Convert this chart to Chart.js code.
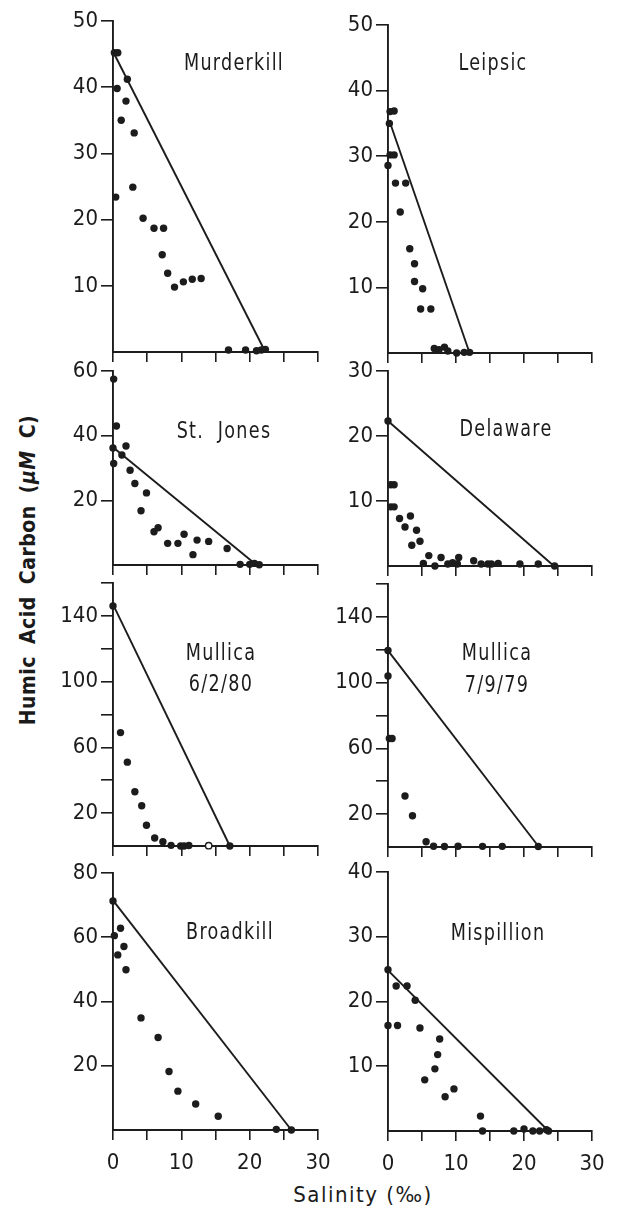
<!DOCTYPE html>
<html>
<head>
<meta charset="utf-8">
<script src="https://cdn.jsdelivr.net/npm/chart.js@4.4.1/dist/chart.umd.min.js"></script>
<style>
  body { margin: 0; background: #fff; width: 619px; height: 1219px; position: relative; overflow: hidden; }
  canvas { position: absolute; }
  .ytitle {
    position: absolute; left: -172px; top: 558px; width: 400px; text-align: center;
    transform: rotate(-90deg); font: bold 21px 'Liberation Sans Narrow', 'DejaVu Sans Condensed', sans-serif;
    color: #1a1a1a; letter-spacing: 0.5px; word-spacing: 5px; white-space: nowrap;
  }
  .xtitle {
    position: absolute; left: 263px; top: 1182px; width: 200px; text-align: center;
    font: 22px 'Liberation Sans Narrow', 'DejaVu Sans Condensed', sans-serif;
    color: #1a1a1a; letter-spacing: 1.5px; white-space: nowrap;
  }
</style>
</head>
<body>
<div class="ytitle">Humic Acid Carbon (<i>μM</i> C)</div>
<div class="xtitle">Salinity (‰)</div>
<script>
// salinity (per mille) vs humic acid carbon (uM C)
const murderkillSal = [0.2, 0.7, 2.1, 0.6, 1.9, 1.2, 3.1, 2.9, 0.4, 4.4, 6.0, 7.4, 7.2, 8.0, 9.0, 10.3, 11.6, 12.9, 16.9, 19.4, 21.0, 21.7, 22.3];
const murderkillHA  = [45.2, 45.2, 41.2, 39.8, 37.9, 35.0, 33.1, 24.9, 23.4, 20.2, 18.7, 18.7, 14.7, 11.9, 9.8, 10.6, 11.0, 11.1, 0.3, 0.3, 0.2, 0.3, 0.4];
const murderkillMixSal = [0, 22.3];
const murderkillMixHA  = [45.4, 0];

const leipsicSal = [0.3, 0.9, 0.2, 0.3, 0.9, 0.0, 1.1, 2.6, 1.8, 3.2, 3.9, 3.9, 5.1, 4.8, 6.3, 6.8, 7.5, 8.3, 8.8, 10.1, 11.2, 12.0];
const leipsicHA  = [36.8, 36.9, 35.0, 30.2, 30.2, 28.6, 25.9, 25.9, 21.5, 15.9, 13.6, 10.9, 9.8, 6.7, 6.7, 0.7, 0.5, 0.9, 0.3, 0.0, 0.1, 0.1];
const leipsicMixSal = [0.2, 12.0];
const leipsicMixHA  = [35.4, 0];

const stJonesSal = [0.1, 0.5, 0.0, 0.1, 1.3, 1.9, 2.5, 3.2, 4.9, 4.1, 6.0, 6.6, 8.0, 9.5, 10.4, 11.7, 12.3, 14.0, 16.7, 18.6, 20.0, 20.7, 21.4];
const stJonesHA  = [57.5, 43.0, 36.2, 31.4, 34.0, 36.8, 29.3, 25.2, 22.3, 16.8, 10.3, 11.5, 6.7, 6.7, 9.5, 3.2, 7.7, 7.3, 5.1, 0.2, 0.2, 0.5, 0.1];
const stJonesMixSal = [0, 21.0];
const stJonesMixHA  = [36.4, 0];

const delawareSal = [0, 0.4, 0.9, 0.4, 0.9, 1.7, 3.3, 2.5, 4.2, 3.5, 4.7, 6.0, 5.2, 6.9, 7.8, 8.8, 9.5, 10.2, 10.4, 12.6, 13.7, 14.7, 15.2, 16.2, 19.4, 22.1, 24.5];
const delawareHA  = [22.3, 12.5, 12.5, 9.1, 9.1, 7.3, 7.7, 6.0, 5.5, 3.2, 3.8, 1.6, 0.4, 0.0, 1.3, 0.3, 0.5, 0.3, 1.3, 0.8, 0.3, 0.3, 0.3, 0.4, 0.3, 0.3, 0.0];
const delawareMixSal = [0, 24.4];
const delawareMixHA  = [22.3, 0];

const mullica80Sal = [0, 1.1, 2.1, 3.2, 4.2, 4.9, 6.1, 7.3, 8.5, 9.9, 10.4, 11.1, 17.1];
const mullica80HA  = [146, 69, 51, 33, 24.5, 12.6, 4.9, 2.6, 0.4, 0.0, 0.0, 0.3, 0.0];
const mullica80OpenSal = [14.0];
const mullica80OpenHA  = [0.2];
const mullica80MixSal = [0, 17.1];
const mullica80MixHA  = [147, 0];

const mullica79Sal = [0, 0, 0.2, 0.6, 2.5, 3.6, 5.6, 6.7, 8.3, 10.3, 13.9, 16.8, 22.1];
const mullica79HA  = [119.5, 104, 66, 66, 31, 19, 3.2, 0.5, 0.3, 0.5, 0.4, 0.4, 0.3];
const mullica79MixSal = [0, 22.2];
const mullica79MixHA  = [119.5, 0];

const broadkillSal = [0, 0.2, 1.1, 1.6, 0.7, 1.9, 4.1, 6.6, 8.2, 9.5, 12.1, 15.4, 23.9, 26.1];
const broadkillHA  = [71.3, 60.5, 62.8, 57.1, 54.5, 49.9, 34.9, 28.8, 18.2, 12.1, 8.1, 4.3, 0.2, 0.0];
const broadkillMixSal = [0, 26.1];
const broadkillMixHA  = [71.5, 0];

const mispillionSal = [0, 1.2, 2.8, 4.0, 0, 1.4, 4.7, 7.6, 7.3, 6.9, 5.4, 9.7, 8.4, 13.6, 13.9, 18.5, 20.0, 21.3, 22.3, 23.3, 23.6];
const mispillionHA  = [24.9, 22.4, 22.4, 20.2, 16.3, 16.3, 15.9, 14.2, 11.8, 9.6, 7.9, 6.5, 5.3, 2.3, 0.0, 0.0, 0.3, 0.0, 0.0, 0.2, 0.0];
const mispillionMixSal = [0, 23.6];
const mispillionMixHA  = [24.8, 0];

const salTickStep = 5;
const salLabels = [0, 10, 20, 30];

const INK = '#1c1c1c';
const FONT = "'Liberation Sans Narrow', 'DejaVu Sans Condensed', sans-serif";

const toXY = (xs, ys) => xs.map((x, i) => ({ x: x, y: ys[i] }));

// draws the station name inside the plot (a bit squeezed, like the lettering in the scan)
const panelTitle = {
  id: 'panelTitle',
  afterDatasetsDraw(chart, args, opts) {
    if (!opts.lines) return;
    const { ctx, chartArea } = chart;
    const sx = 0.85;
    ctx.save();
    ctx.font = '23px ' + FONT;
    ctx.fillStyle = INK;
    ctx.textAlign = 'center';
    ctx.textBaseline = 'alphabetic';
    if ('letterSpacing' in ctx) ctx.letterSpacing = '1.5px';
    ctx.scale(sx, 1);
    opts.lines.forEach((t, i) => {
      ctx.fillText(t, (chartArea.left + opts.x) / sx, chartArea.top + opts.y[i] + 8);
    });
    ctx.restore();
  }
};

function makePanel(p) {
  const A = 83, padTop = 14, padRight = 12;
  const B = p.bottomLabels ? 60 : 14;
  const chartW = p.right - p.left;
  const canvas = document.createElement('canvas');
  canvas.width = A + chartW + padRight;
  canvas.height = padTop + (p.bottom - p.top) + B;
  canvas.style.left = (p.left - A) + 'px';
  canvas.style.top = (p.top - padTop) + 'px';
  document.body.appendChild(canvas);

  new Chart(canvas, {
    type: 'scatter',
    data: {
      datasets: [
        {
          type: 'line', data: toXY(p.mixSal, p.mixHA), borderColor: INK, borderWidth: 1.9,
          pointRadius: 0, fill: false, clip: false
        },
        {
          data: toXY(p.sal, p.ha), backgroundColor: INK, borderColor: INK,
          pointRadius: 3.7, pointBorderWidth: 0, clip: false
        },
        {
          data: p.openSal ? toXY(p.openSal, p.openHA) : [], backgroundColor: '#fff', borderColor: INK,
          pointRadius: 3.2, pointBorderWidth: 1.4, clip: false
        }
      ]
    },
    options: {
      responsive: false,
      animation: false,
      devicePixelRatio: 1,
      layout: { padding: { top: padTop, right: padRight, left: 0, bottom: 0 } },
      plugins: {
        legend: { display: false },
        tooltip: { enabled: false },
        panelTitle: { lines: p.title, x: p.titleX, y: p.titleY }
      },
      scales: {
        x: {
          type: 'linear', min: 0, max: 30,
          afterFit: s => { s.height = B; s.paddingLeft = 0; s.paddingRight = 0; },
          border: { display: true, color: INK, width: 1.9 },
          grid: { drawOnChartArea: false, drawTicks: true, tickLength: 10, color: INK, lineWidth: 1.6 },
          ticks: {
            stepSize: salTickStep, autoSkip: false, maxRotation: 0, padding: 10,
            color: INK, font: { family: FONT, size: 22 },
            callback: v => (p.bottomLabels && salLabels.includes(v)) ? v : ''
          }
        },
        y: {
          type: 'linear', min: 0, max: p.yMax,
          afterFit: s => { s.width = A; s.paddingTop = 0; s.paddingBottom = 0; },
          border: { display: true, color: INK, width: 1.9 },
          grid: {
            drawOnChartArea: false, drawTicks: true, tickLength: 12, lineWidth: 1.6,
            color: ctx => (ctx.tick && ctx.tick.value === 0) ? 'rgba(0,0,0,0)' : INK
          },
          ticks: {
            stepSize: p.yStep, autoSkip: false, padding: 3,
            color: INK, font: { family: FONT, size: 22 },
            callback: v => p.yLabels.includes(v) ? v : ''
          }
        }
      }
    },
    plugins: [panelTitle]
  });
}

const L = { left: 113, right: 318 };
const R = { left: 388, right: 592 };

makePanel({ ...L, top: 21, bottom: 352, yMax: 50, yStep: 10, yLabels: [10, 20, 30, 40, 50],
  sal: murderkillSal, ha: murderkillHA, mixSal: murderkillMixSal, mixHA: murderkillMixHA,
  title: ['Murderkill'], titleX: 121, titleY: [41] });
makePanel({ ...R, top: 25, bottom: 353, yMax: 50, yStep: 10, yLabels: [10, 20, 30, 40, 50],
  sal: leipsicSal, ha: leipsicHA, mixSal: leipsicMixSal, mixHA: leipsicMixHA,
  title: ['Leipsic'], titleX: 105, titleY: [37] });
makePanel({ ...L, top: 371, bottom: 565, yMax: 60, yStep: 20, yLabels: [20, 40, 60],
  sal: stJonesSal, ha: stJonesHA, mixSal: stJonesMixSal, mixHA: stJonesMixHA,
  title: ['St.  Jones'], titleX: 111, titleY: [59] });
makePanel({ ...R, top: 371, bottom: 566, yMax: 30, yStep: 10, yLabels: [10, 20, 30],
  sal: delawareSal, ha: delawareHA, mixSal: delawareMixSal, mixHA: delawareMixHA,
  title: ['Delaware'], titleX: 118, titleY: [57] });
makePanel({ ...L, top: 583, bottom: 846, yMax: 160, yStep: 20, yLabels: [20, 60, 100, 140],
  sal: mullica80Sal, ha: mullica80HA, openSal: mullica80OpenSal, openHA: mullica80OpenHA,
  mixSal: mullica80MixSal, mixHA: mullica80MixHA,
  title: ['Mullica', '6/2/80'], titleX: 108, titleY: [69, 100] });
makePanel({ ...R, top: 584, bottom: 847, yMax: 160, yStep: 20, yLabels: [20, 60, 100, 140],
  sal: mullica79Sal, ha: mullica79HA, mixSal: mullica79MixSal, mixHA: mullica79MixHA,
  title: ['Mullica', '7/9/79'], titleX: 109, titleY: [68, 100] });
makePanel({ ...L, top: 873, bottom: 1130, yMax: 80, yStep: 20, yLabels: [20, 40, 60, 80], bottomLabels: true,
  sal: broadkillSal, ha: broadkillHA, mixSal: broadkillMixSal, mixHA: broadkillMixHA,
  title: ['Broadkill'], titleX: 117, titleY: [58] });
makePanel({ ...R, top: 872, bottom: 1131, yMax: 40, yStep: 10, yLabels: [10, 20, 30, 40], bottomLabels: true,
  sal: mispillionSal, ha: mispillionHA, mixSal: mispillionMixSal, mixHA: mispillionMixHA,
  title: ['Mispillion'], titleX: 110, titleY: [60] });
</script>
</body>
</html>
